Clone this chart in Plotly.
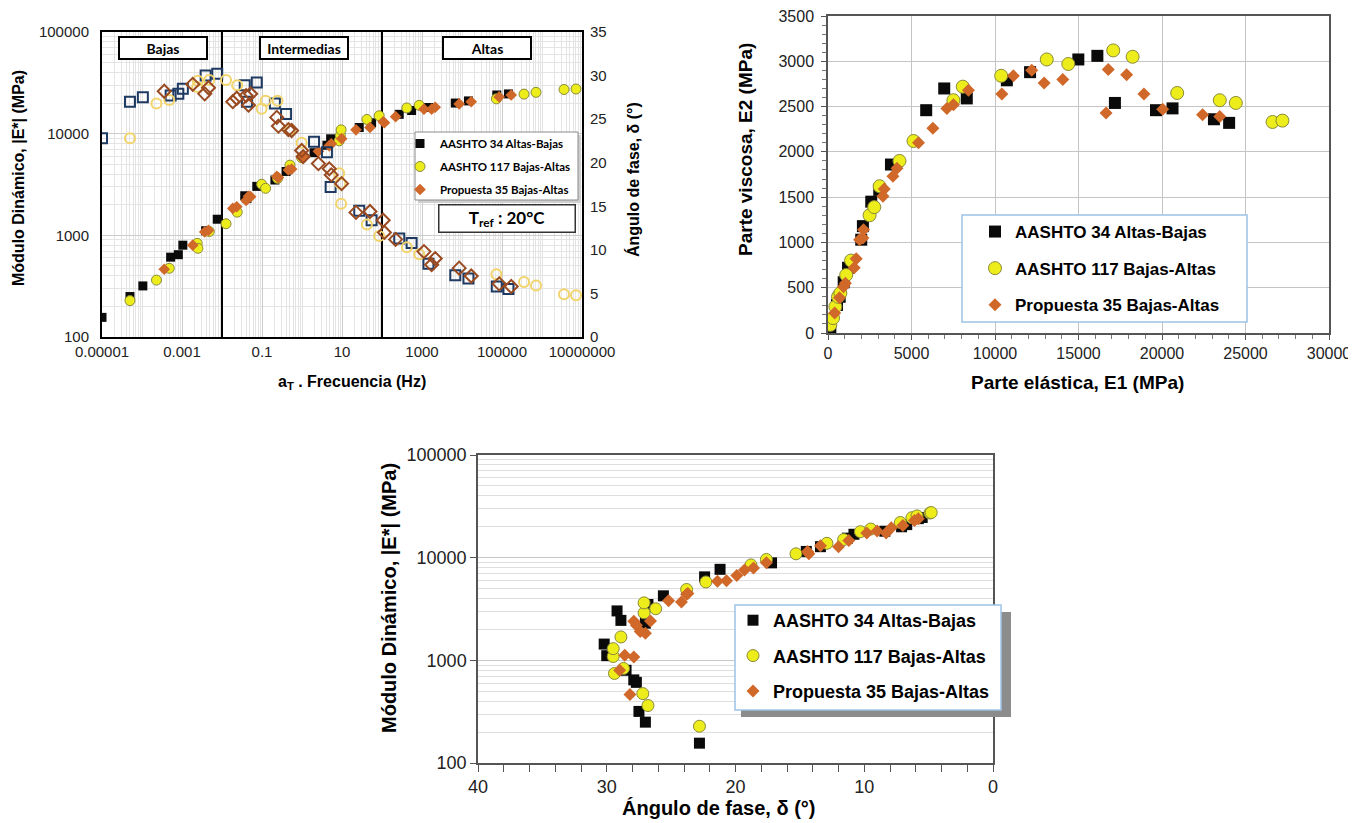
import plotly.graph_objects as go

# page body has an 8px margin: lay the figure out so it lands on the 1356x823 window
OFF = 8
W, H = 1356 - OFF, 823 - OFF
def px(x): return (x - OFF) / W
def py(y): return 1 - (y - OFF) / H

# ---------------- Data: top-left (master curve) & bottom (black space) ----------------
a34_freq = [1e-5, 5.0e-5, 1.05e-4, 5.2e-4, 8.1e-4, 1.05e-3, 3.9e-3, 7.6e-3, 0.037, 0.042, 0.074, 0.21, 0.40,
            2.0, 4.2, 5.2, 27, 55, 270, 550, 1450, 6800, 14500, 74000, 145000]
a34_E = [156, 250, 318, 610, 645, 800, 1110, 1440, 2450, 2300, 3030, 3500, 4250,
         6500, 7700, 8900, 11500, 12800, 15500, 16900, 18100, 20000, 21000, 24000, 24600]
a34_phase = [22.8, 27.0, 27.5, 27.7, 27.9, 28.5, 30.0, 30.2, 28.9, 27.0, 29.2, 26.8, 25.6,
             22.4, 21.2, 17.2, 14.5, 13.4, 11.3, 10.8, 8.4, 7.1, 6.7, 5.8, 5.5]

a117_freq = [5.0e-5, 2.3e-4, 4.8e-4, 2.4e-3, 2.5e-3, 4.8e-3, 0.0126, 0.024, 0.098, 0.123, 0.245, 0.50, 0.98,
             8.5, 9.1, 9.5, 42, 85, 417, 851, 72400, 355000, 708000, 3550000, 7080000]
a117_E = [228, 363, 474, 834, 745, 1090, 1300, 1690, 3180, 2900, 3630, 4900, 5800,
          8500, 9600, 10900, 13800, 15000, 17900, 19000, 22000, 24500, 25500, 27200, 27500]
a117_phase = [22.8, 26.8, 27.2, 28.7, 29.4, 29.5, 29.5, 28.9, 26.2, 27.1, 27.1, 23.8, 22.3,
              18.8, 17.6, 15.3, 12.9, 11.6, 10.3, 9.5, 7.2, 6.3, 5.9, 4.9, 4.8]

p35_freq = [3.6e-4, 1.86e-3, 3.7e-3, 4.6e-3, 0.0186, 0.0234, 0.040, 0.046, 0.052, 0.234, 0.257, 0.457, 0.55,
            0.98, 1.07, 2.57, 4.8, 5.4, 9.8, 22.4, 50, 107, 115, 219, 1120, 1740, 2140, 8510, 17000, 85100, 170000]
p35_E = [464, 800, 1080, 1120, 1840, 1910, 2200, 2420, 2400, 3800, 3700, 4390, 4480,
         5900, 5950, 6700, 7600, 7940, 8930, 10900, 11500, 13100, 12800, 14700, 17400, 17400, 18200,
         19600, 20600, 23000, 24000]
p35_phase = [28.2, 29.0, 27.9, 28.6, 27.0, 27.4, 27.7, 26.6, 27.9, 25.2, 24.2, 23.8, 23.7,
             21.4, 20.7, 19.9, 19.3, 18.6, 17.6, 14.3, 14.4, 13.4, 12.0, 11.2, 9.8, 8.3, 9.0,
             7.9, 7.0, 6.1, 5.8]

# ---------------- Data: top-right (Cole-Cole) ----------------
a34_E1 = [140, 540, 700, 940, 1200, 1990, 2090, 2590, 3070, 3770, 5880, 6960, 8310, 10710, 12100,
          14990, 16130, 17180, 19640, 20630, 23110, 24020]
a34_E2 = [55, 310, 400, 560, 720, 1030, 1180, 1450, 1580, 1860, 2460, 2700, 2590, 2790, 2880,
          3020, 3060, 2540, 2460, 2480, 2360, 2320]
a117_E1 = [140, 300, 440, 600, 740, 1090, 1380, 2490, 2770, 3090, 4280, 5120, 7510, 8070, 10370,
           13100, 14390, 17080, 18240, 20910, 23460, 24420, 26620, 27210]
a117_E2 = [90, 165, 290, 400, 440, 640, 800, 1300, 1390, 1620, 1900, 2120, 2570, 2720, 2840,
           3020, 2970, 3120, 3050, 2650, 2570, 2540, 2330, 2345]
p35_E1 = [400, 690, 930, 1040, 1570, 1690, 1890, 2090, 2130, 3290, 3370, 3890, 4130, 5420, 6280,
          7120, 7510, 8410, 10410, 11100, 12200, 12940, 14060, 16780, 16650, 17880, 18920, 20040,
          22430, 23460]
p35_E2 = [220, 390, 510, 550, 720, 820, 1030, 1050, 1140, 1510, 1590, 1730, 1820, 2100, 2260,
          2480, 2520, 2680, 2640, 2840, 2900, 2760, 2800, 2910, 2430, 2850, 2640, 2470, 2410, 2390]

names = ["AASHTO 34 Altas-Bajas", "AASHTO 117 Bajas-Altas", "Propuesta 35 Bajas-Altas"]
region_bounds = [0.01, 100]
region_labels = ["Bajas", "Intermedias", "Altas"]

freq_ticks = [1e-5, 1e-3, 1e-1, 10, 1000, 1e5, 1e7]
freq_ticktext = ["0.00001", "0.001", "0.1", "10", "1000", "100000", "10000000"]

# ---------------- Styles ----------------
BLACK = "#0a0a0a"
YEL = "#EDED1C"
YEL_EDGE = "#8a8a3a"
ORG = "#D0682A"
NAVY = "#1E3A62"
GOLD = "#F2D46A"
BROWN = "#9A4A20"
ARIAL = "Liberation Sans, Arial, sans-serif"
CAL = "Lato, Carlito, sans-serif"

fig = go.Figure()

# ---- top-left: open markers (phase, right axis)
for fr, ph, sym, col in [(a34_freq, a34_phase, "square-open", NAVY),
                         (a117_freq, a117_phase, "circle-open", GOLD),
                         (p35_freq, p35_phase, "diamond-open", BROWN)]:
    fig.add_trace(go.Scatter(x=fr, y=ph, mode="markers", xaxis="x", yaxis="y2", showlegend=False,
                             marker=dict(symbol=sym, size=10, color=col, line=dict(width=2, color=col))))

# region boundary lines
for b in region_bounds:
    fig.add_trace(go.Scatter(x=[b, b], y=[100, 100000], mode="lines", xaxis="x", yaxis="y",
                             showlegend=False, line=dict(color="black", width=2), hoverinfo="skip"))

# ---- top-left: filled markers (|E*|, left axis)
tl_styles = [
    dict(symbol="square", size=9, color=BLACK, line=dict(width=0)),
    dict(symbol="circle", size=10, color=YEL, line=dict(width=1, color=YEL_EDGE)),
    dict(symbol="diamond", size=9, color=ORG, line=dict(width=0)),
]
for i, (fr, E) in enumerate([(a34_freq, a34_E), (a117_freq, a117_E), (p35_freq, p35_E)]):
    fig.add_trace(go.Scatter(x=fr, y=E, mode="markers", xaxis="x", yaxis="y", name=names[i],
                             legend="legend", legendgroup=f"tl{i}", marker=tl_styles[i]))

# ---- top-right
tr_styles = [
    dict(symbol="square", size=12, color=BLACK, line=dict(width=0)),
    dict(symbol="circle", size=13, color=YEL, line=dict(width=1, color=YEL_EDGE)),
    dict(symbol="diamond", size=10, color=ORG, line=dict(width=0)),
]
for i, (e1, e2) in enumerate([(a34_E1, a34_E2), (a117_E1, a117_E2), (p35_E1, p35_E2)]):
    fig.add_trace(go.Scatter(x=e1, y=e2, mode="markers", xaxis="x2", yaxis="y3", name=names[i],
                             legend="legend2", legendgroup=f"tr{i}", marker=tr_styles[i]))

# ---- bottom (black space)
b_styles = [
    dict(symbol="square", size=11, color=BLACK, line=dict(width=0)),
    dict(symbol="circle", size=12, color=YEL, line=dict(width=1, color=YEL_EDGE)),
    dict(symbol="diamond", size=10, color=ORG, line=dict(width=0)),
]
for i, (ph, E) in enumerate([(a34_phase, a34_E), (a117_phase, a117_E), (p35_phase, p35_E)]):
    fig.add_trace(go.Scatter(x=ph, y=E, mode="markers", xaxis="x3", yaxis="y4", name=names[i],
                             legend="legend3", legendgroup=f"b{i}", marker=b_styles[i]))

tickfont_tl = dict(family=ARIAL, size=15, color="#222")
fig.update_layout(
    width=W, height=H, autosize=False,
    margin=dict(l=0, r=0, t=0, b=0),
    paper_bgcolor="white", plot_bgcolor="white",
    # top-left
    xaxis=dict(domain=[px(102), px(582)], type="log", range=[-5, 7], tickmode="array",
               tickvals=freq_ticks, ticktext=freq_ticktext, tickfont=tickfont_tl,
               showgrid=True, gridcolor="#cccccc", gridwidth=1,
               minor=dict(dtick="D1", showgrid=True, gridcolor="#e4e4e4", gridwidth=1),
               showline=True, linecolor="black", linewidth=2, mirror=True, zeroline=False,
               anchor="y", ticks="", automargin=False, ticklabeloverflow="allow"),
    yaxis=dict(domain=[py(337), py(32)], type="log", range=[2, 5], tickmode="array",
               tickvals=[100, 1000, 10000, 100000], ticktext=["100", "1000", "10000", "100000"],
               tickfont=tickfont_tl, showgrid=True, gridcolor="#cccccc",
               minor=dict(dtick="D1", showgrid=True, gridcolor="#e4e4e4"),
               showline=True, linecolor="black", linewidth=2, mirror=True, zeroline=False,
               anchor="x", ticks="", automargin=False, ticklabelstandoff=8,
               ticklabeloverflow="allow"),
    yaxis2=dict(overlaying="y", side="right", anchor="x", range=[0, 35], dtick=5,
                tickfont=tickfont_tl, showgrid=False, zeroline=False, showline=False, ticks="",
                automargin=False, ticklabelstandoff=7, ticklabeloverflow="allow"),
    # top-right
    xaxis2=dict(domain=[px(828), px(1329)], range=[0, 30000], dtick=5000, anchor="y3",
                tickformat="d",
                tickfont=dict(family=ARIAL, size=16, color="#222"),
                showgrid=True, gridcolor="#c4c4c4", zeroline=False,
                showline=True, linecolor="#555", linewidth=1.5, mirror=True,
                ticks="outside", ticklen=5, tickcolor="#555", automargin=False,
                ticklabeloverflow="allow",
                minor=dict(dtick=1000, ticks="outside", ticklen=4, tickcolor="#777")),
    yaxis3=dict(domain=[py(333), py(16)], range=[0, 3500], dtick=500, anchor="x2",
                tickformat="d",
                tickfont=dict(family=ARIAL, size=16, color="#222"),
                showgrid=True, gridcolor="#c4c4c4", zeroline=False,
                showline=True, linecolor="#555", linewidth=1.5, mirror=True,
                ticks="outside", ticklen=5, tickcolor="#555", automargin=False,
                ticklabelstandoff=4, ticklabeloverflow="allow",
                minor=dict(dtick=100, ticks="outside", ticklen=4, tickcolor="#777")),
    # bottom
    xaxis3=dict(domain=[px(478), px(993)], range=[40, 0], dtick=10, anchor="y4",
                tickfont=dict(family=ARIAL, size=18, color="#222"),
                showgrid=False, zeroline=False,
                showline=True, linecolor="#555", linewidth=1.5, mirror=True,
                ticks="outside", ticklen=7, tickcolor="#555", automargin=False,
                ticklabeloverflow="allow",
                minor=dict(dtick=2, ticks="outside", ticklen=7, tickcolor="#555")),
    yaxis4=dict(domain=[py(763), py(455)], type="log", range=[2, 5], tickmode="array",
                tickvals=[100, 1000, 10000, 100000], ticktext=["100", "1000", "10000", "100000"],
                tickfont=dict(family=ARIAL, size=18, color="#222"),
                showgrid=True, gridcolor="#c8c8c8", zeroline=False,
                minor=dict(dtick="D1", showgrid=True, gridcolor="#dedede"),
                showline=True, linecolor="#555", linewidth=1.5, mirror=True,
                ticks="outside", ticklen=6, tickcolor="#555", anchor="x3", automargin=False,
                ticklabeloverflow="allow"),
    legend=dict(x=px(400), y=py(129), xanchor="left", yanchor="top",
                bgcolor="rgba(0,0,0,0)", borderwidth=0,
                font=dict(family=CAL, size=11.5, color="black", weight="bold"),
                tracegroupgap=4, itemwidth=30),
    legend2=dict(x=px(975), y=py(214), xanchor="left", yanchor="top",
                 bgcolor="rgba(0,0,0,0)", borderwidth=0,
                 font=dict(family=ARIAL, size=17, color="black", weight="bold"),
                 tracegroupgap=11.5, itemwidth=30),
    legend3=dict(x=px(733), y=py(602), xanchor="left", yanchor="top",
                 bgcolor="rgba(0,0,0,0)", borderwidth=0,
                 font=dict(family=ARIAL, size=18, color="black", weight="bold"),
                 tracegroupgap=9, itemwidth=30),
)

# legend boxes (drawn as shapes so they match the reference box sizes)
def rect(x0, y0, x1, y1, fill, line_color=None, lw=0):
    fig.add_shape(type="rect", xref="paper", yref="paper", x0=px(x0), x1=px(x1), y0=py(y1), y1=py(y0),
                  fillcolor=fill, layer="above",
                  line=dict(width=lw, color=line_color or fill))

# top-left legend + shadow
rect(418, 135, 581, 203, "#cfcfcf")
rect(415, 132, 578, 200, "white", "#8a8a8a", 1)
# top-right legend
rect(962, 215, 1247, 322, "white", "#9cc3e6", 1.5)
# bottom legend + shadow
rect(741, 612, 1011, 717, "#8c8c8c")
rect(735, 605, 1001, 710, "white", "#9cc3e6", 1.5)

ann = []
title_b = lambda s: dict(family=ARIAL, size=s, color="black", weight="bold")
# axis titles
ann.append(dict(text="Módulo Dinámico, |E*| (MPa)", x=px(18), y=py(178), textangle=-90, font=title_b(16)))
ann.append(dict(text="Ángulo de fase, δ (°)", x=px(633), y=py(180), textangle=-90, font=title_b(16)))
ann.append(dict(text="a<sub>T</sub> . Frecuencia (Hz)", x=px(352), y=py(382), font=title_b(16)))
ann.append(dict(text="Parte viscosa, E2 (MPa)", x=px(745), y=py(150), textangle=-90, font=title_b(19)))
ann.append(dict(text="Parte elástica, E1 (MPa)", x=px(1077), y=py(382), font=title_b(19)))
ann.append(dict(text="Módulo Dinámico, |E*| (MPa)", x=px(389), y=py(598), textangle=-90, font=title_b(20)))
ann.append(dict(text="Ángulo de fase, δ (°)", x=px(718), y=py(808), font=title_b(20)))
# region labels
for lab, cx in zip(region_labels, [163, 303.5, 487]):
    ann.append(dict(text=lab, x=px(cx), y=py(48), width=84, height=18, borderpad=1,
                    bordercolor="black", borderwidth=2, bgcolor="white",
                    font=dict(family=CAL, size=14, color="black", weight="bold")))
# T_ref box
ann.append(dict(text="T<sub>ref</sub> : 20°C", x=px(506.5), y=py(218), width=133, height=24, borderpad=1,
                bordercolor="#333", borderwidth=1.5, bgcolor="white",
                font=dict(family=CAL, size=17, color="black", weight="bold")))
for a in ann:
    a.update(xref="paper", yref="paper", showarrow=False, xanchor="center", yanchor="middle")
fig.update_layout(annotations=ann)

fig.write_html("out.html")
